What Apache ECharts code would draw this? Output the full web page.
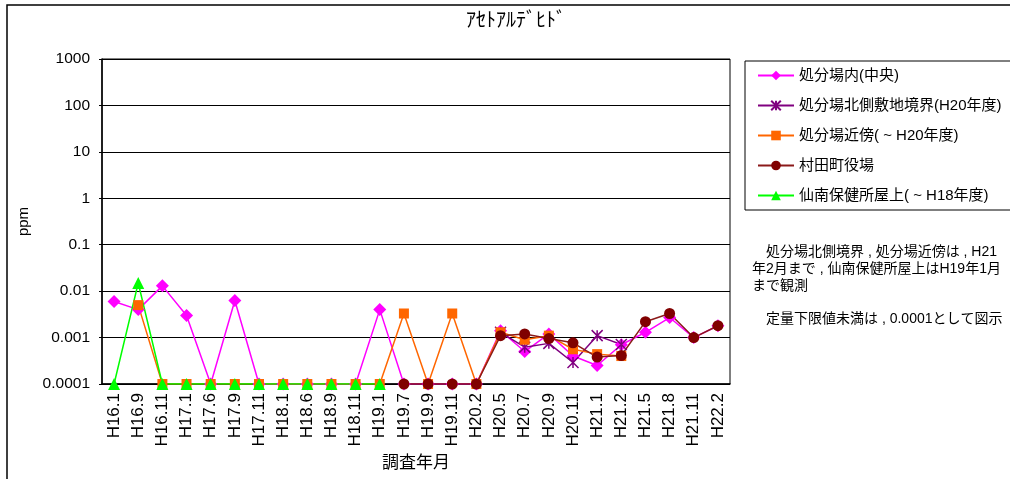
<!DOCTYPE html>
<html>
<head>
<meta charset="utf-8">
<script src="https://cdn.jsdelivr.net/npm/echarts@6/dist/echarts.min.js"></script>
<style>
  html, body { margin: 0; padding: 0; background: #fff; }
  #chart { width: 1010px; height: 479px; }
</style>
</head>
<body>
<div id="chart"></div>
<script>
// 調査年月
const categories = ['H16.1','H16.9','H16.11','H17.1','H17.6','H17.9','H17.11','H18.1','H18.6','H18.9','H18.11','H19.1',
  'H19.7','H19.9','H19.11','H20.2','H20.5','H20.7','H20.9','H20.11','H21.1','H21.2','H21.5','H21.8','H21.11','H22.2'];

// 濃度 (ppm)。定量下限値未満は 0.0001
const centerSite = [0.006, 0.004, 0.013, 0.003, 0.0001, 0.0063, 0.0001, 0.0001, 0.0001, 0.0001, 0.0001, 0.004,
  0.0001, 0.0001, 0.0001, 0.0001, 0.0014, 0.0005, 0.0012, 0.0004, 0.00025, 0.0007, 0.0013, 0.0027, 0.001, 0.0018];
const northBoundary = [null, null, null, null, null, null, null, null, null, null, null, null,
  null, null, null, null, 0.0013, 0.00062, 0.00075, 0.00029, 0.0011, 0.00071, null, null, null, null];
const nearby = [null, 0.005, 0.0001, 0.0001, 0.0001, 0.0001, 0.0001, 0.0001, 0.0001, 0.0001, 0.0001, 0.0001,
  0.0033, 0.0001, 0.0033, 0.0001, 0.0013, 0.0009, 0.0011, 0.00056, 0.00044, 0.0004, null, null, null, null];
const townOffice = [null, null, null, null, null, null, null, null, null, null, null, null,
  0.0001, 0.0001, 0.0001, 0.0001, 0.0011, 0.0012, 0.00095, 0.00077, 0.00038, 0.00041, 0.0022, 0.0033, 0.001, 0.0018];
const healthCenter = [0.0001, 0.015, 0.0001, 0.0001, 0.0001, 0.0001, 0.0001, 0.0001, 0.0001, 0.0001, 0.0001, 0.0001,
  null, null, null, null, null, null, null, null, null, null, null, null, null, null];

const seriesNames = ['処分場内(中央)', '処分場北側敷地境界(H20年度)', '処分場近傍( ~ H20年度)', '村田町役場', '仙南保健所屋上( ~ H18年度)'];
const yTickLabels = ['0.0001', '0.001', '0.01', '0.1', '1', '10', '100', '1000'];

const FONT = '"Liberation Sans", Arial, "Noto Sans CJK JP", sans-serif';
const FONT_NARROW = '"Liberation Sans Narrow", "Arial Narrow", "Liberation Sans", sans-serif';
const asterisk = 'path://M0,0L10,10M10,0L0,10M5,0L5,10';

const chart = echarts.init(document.getElementById('chart'));

function lineSeries(name, data, color, lineColor, symbol, size, extra) {
  return Object.assign({
    name: name,
    type: 'line',
    data: data,
    symbol: symbol,
    symbolSize: size,
    lineStyle: { color: lineColor, width: 1.5 },
    itemStyle: { color: color },
    emphasis: { disabled: true },
    animation: false
  }, extra || {});
}

chart.setOption({
  animation: false,
  textStyle: { fontFamily: FONT, color: '#000' },
  grid: {
    left: 102, right: 280, top: 59, bottom: 95,
    outerBoundsMode: 'none',
    containLabel: false,
    show: true, borderColor: '#000', borderWidth: 1, backgroundColor: 'transparent'
  },
  legend: {
    orient: 'vertical',
    left: 745, top: 61,
    padding: [7, 16, 7, 12],
    itemWidth: 36, itemHeight: 12, itemGap: 15,
    borderColor: '#000', borderWidth: 1,
    textStyle: { fontSize: 15, fontFamily: FONT, color: '#000' },
    data: seriesNames
  },
  xAxis: {
    type: 'category',
    data: categories,
    boundaryGap: true,
    name: '調査年月',
    nameLocation: 'middle',
    nameGap: 71,
    nameTextStyle: { fontSize: 17, color: '#000', fontFamily: FONT },
    axisLine: { lineStyle: { color: '#000', width: 1.5 } },
    axisTick: { inside: true, length: 5, interval: 0, lineStyle: { color: '#000' } },
    axisLabel: { rotate: 90, interval: 0, fontSize: 17, color: '#000', margin: 9, fontFamily: FONT_NARROW },
    splitLine: { show: false }
  },
  yAxis: {
    type: 'log',
    logBase: 10,
    min: 0.0001,
    max: 1000,
    name: 'ppm',
    nameLocation: 'middle',
    nameRotate: 90,
    nameGap: 68,
    nameTextStyle: { fontSize: 15, color: '#000', fontFamily: FONT },
    axisLine: { show: true, lineStyle: { color: '#000', width: 1.5 } },
    axisTick: { show: true, length: 3, lineStyle: { color: '#000' } },
    axisLabel: {
      fontSize: 15.5, color: '#000', margin: 12, fontFamily: FONT,
      formatter: function (v) {
        const i = Math.round(Math.log10(v)) + 4;
        return yTickLabels[i] !== undefined ? yTickLabels[i] : '';
      }
    },
    splitLine: { show: true, lineStyle: { color: '#000', width: 1 } },
    minorTick: { show: false }
  },
  series: [
    lineSeries(seriesNames[0], centerSite, '#FF00FF', '#FF00FF', 'diamond', 13),
    lineSeries(seriesNames[1], northBoundary, '#800080', '#800080', asterisk, 11,
      { itemStyle: { color: 'transparent', borderColor: '#800080', borderWidth: 1.5 } }),
    lineSeries(seriesNames[2], nearby, '#FF6600', '#FF6600', 'rect', 10),
    lineSeries(seriesNames[3], townOffice, '#800000', '#8B1A1A', 'circle', 11),
    lineSeries(seriesNames[4], healthCenter, '#00FF00', '#00FF00', 'triangle', 12)
  ],
  graphic: [
    {
      type: 'rect', silent: true, z: -1,
      shape: { x: 7, y: 5, width: 1020, height: 490 },
      style: { fill: 'transparent', stroke: '#000', lineWidth: 1.5 }
    },
    {
      type: 'text', silent: true,
      x: 516, y: 9,
      style: {
        text: 'ｱｾﾄｱﾙﾃﾞﾋﾄﾞ',
        font: '20px "Noto Sans CJK JP", sans-serif',
        fill: '#000', textAlign: 'center'
      }
    },
    {
      type: 'text', silent: true,
      x: 752, y: 244,
      style: {
        text: '\u3000処分場北側境界 , 処分場近傍は , H21\n年2月まで , 仙南保健所屋上はH19年1月\nまで観測',
        font: '14px ' + FONT,
        lineHeight: 17,
        fill: '#000'
      }
    },
    {
      type: 'text', silent: true,
      x: 752, y: 311,
      style: {
        text: '\u3000定量下限値未満は , 0.0001として図示',
        font: '14px ' + FONT,
        lineHeight: 17,
        fill: '#000'
      }
    }
  ]
});
</script>
</body>
</html>
